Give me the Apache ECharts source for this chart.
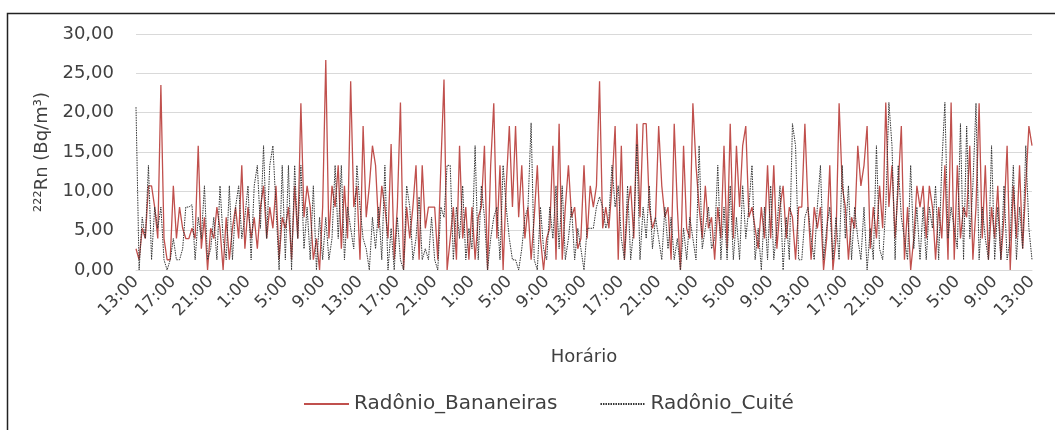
<!DOCTYPE html>
<html>
<head>
<meta charset="utf-8">
<script src="https://cdn.jsdelivr.net/npm/echarts@6/dist/echarts.min.js"></script>
<style>
  html, body { margin: 0; padding: 0; background: #fff; }
  #chart { width: 1055px; height: 430px; }
</style>
</head>
<body>
<div id="chart"></div>
<script>
// rótulos do eixo x (a cada 4 h, leitura a cada 20 min)
const tickLabels = ["13:00", "17:00", "21:00", "1:00", "5:00", "9:00",
  "13:00", "17:00", "21:00", "1:00", "5:00", "9:00",
  "13:00", "17:00", "21:00", "1:00", "5:00", "9:00",
  "13:00", "17:00", "21:00", "1:00", "5:00", "9:00", "13:00"];

const yTicks = [0, 5, 10, 15, 20, 25, 30];

// Radônio_Bananeiras (Bq/m3), 12 leituras por intervalo de 4 h
const bananeiras = [
  2.7, 1.3, 5.3, 4, 10.7, 10.7, 8, 4, 23.5, 4, 1.3, 1.3,
  10.7, 4, 8, 5.3, 4, 4, 5.3, 4, 15.8, 2.7, 6.7, 0,
  5.3, 4, 8, 5.3, 0, 6.7, 1.3, 5.3, 8, 4, 13.3, 2.7,
  8, 4, 6.7, 2.7, 8, 10.7, 4, 8, 5.3, 10.7, 1.3, 6.7,
  5.3, 8, 1.3, 10.7, 4, 21.2, 6.7, 10.7, 8, 1.3, 4, 0,
  8, 26.7, 4, 10.7, 8, 13.3, 2.7, 10.7, 4, 24, 8, 10.7,
  1.3, 18.3, 6.7, 10.7, 15.8, 13.3, 5.3, 10.7, 8, 4, 16, 1.3,
  8, 21.3, 0, 8, 4, 8, 13.3, 1.3, 13.3, 5.3, 8, 8,
  8, 1.3, 13.3, 24.2, 0, 4, 8, 1.3, 15.8, 4, 8, 1.3,
  8, 1.3, 6.7, 8, 15.8, 0, 13.3, 21.2, 4, 13.3, 0, 10.7,
  18.3, 8, 18.3, 6.7, 13.3, 4, 8, 1.3, 6.7, 13.3, 4, 0,
  4, 5.3, 15.8, 1.3, 18.6, 1.3, 8, 13.3, 6.7, 8, 2.7, 4,
  13.3, 4, 10.7, 8, 10.7, 24, 5.3, 8, 5.3, 10.7, 18.3, 1.3,
  15.8, 1.3, 8, 10.7, 4, 18.6, 6.7, 18.6, 18.6, 8, 5.3, 6.7,
  18.3, 10.7, 6.7, 8, 1.3, 18.6, 8, 0, 15.8, 5.3, 4, 21.2,
  13.3, 8, 4, 10.7, 5.3, 6.7, 1.3, 8, 4, 15.8, 2.7, 18.6,
  4, 15.8, 8, 15.8, 18.3, 6.7, 8, 5.3, 2.7, 8, 4, 13.3,
  4, 13.3, 2.7, 8, 10.7, 4, 8, 6.7, 1.3, 8, 8, 18.6,
  8, 1.3, 8, 5.3, 8, 0, 4, 13.3, 0, 4, 21.2, 10.7,
  8, 1.3, 6.7, 5.3, 15.8, 10.7, 13.3, 18.3, 2.7, 8, 4, 10.7,
  5.3, 21.3, 8, 13.3, 4, 10.7, 18.3, 1.3, 8, 0, 4, 10.7,
  8, 10.7, 4, 10.7, 8, 1.3, 8, 4, 13.3, 1.3, 21.3, 1.3,
  13.3, 4, 8, 6.7, 15.8, 1.3, 8, 21.2, 4, 13.3, 1.3, 8,
  4, 10.7, 1.3, 6.7, 15.8, 0, 10.7, 4, 13.3, 2.7, 10.7, 18.3, 15.8
];

// Radônio_Cuité (Bq/m3)
const cuite = [
  20.7, 0, 6.7, 4, 13.3, 1.3, 8, 5.3, 8, 1.3, 0, 1.3,
  4, 1.3, 1.3, 2.7, 8, 8, 8.3, 1.3, 6.7, 4, 10.7, 1.3,
  2.7, 6.7, 1.3, 10.7, 4, 1.3, 10.7, 1.3, 8, 10.7, 4, 6.7,
  10.7, 1.3, 10.7, 13.3, 5.3, 15.8, 4, 13.3, 15.8, 8, 0, 13.3,
  1.3, 13.3, 0, 13.3, 4, 13.3, 2.7, 8, 1.3, 10.7, 0, 6.7,
  1.3, 6.7, 1.3, 4, 13.3, 4, 13.3, 1.3, 8, 5.3, 2.7, 13.3,
  8, 4, 2.7, 0, 6.7, 2.7, 8, 1.3, 13.3, 0, 5.3, 0,
  6.7, 1.3, 0, 10.7, 8, 1.3, 4, 9.3, 1.3, 2.7, 1.3, 6.7,
  1.3, 0, 8, 6.7, 13.3, 13.3, 1.3, 8, 4, 10.7, 1.3, 5.3,
  2.7, 15.8, 1.3, 10.7, 6.7, 0, 4, 6.7, 8, 1.3, 13.3, 8,
  4, 1.3, 1.3, 0, 2.7, 6.7, 8, 18.7, 1.3, 0, 8, 2.7,
  1.3, 8, 4, 10.7, 2.7, 10.7, 1.3, 4, 8, 1.3, 5.3, 2.7,
  0, 5.3, 5.3, 5.3, 8, 9.3, 8, 5.3, 6.7, 13.3, 8, 10.7,
  4, 1.3, 10.7, 1.3, 5.3, 16, 1.3, 8, 4, 10.7, 2.7, 6.7,
  4, 1.3, 8, 2.7, 6.7, 1.3, 4, 0, 5.3, 1.3, 6.7, 4,
  1.3, 15.8, 2.7, 5.3, 8, 2.7, 4, 13.3, 1.3, 8, 1.3, 10.7,
  1.3, 6.7, 1.3, 10.7, 4, 8, 13.3, 1.3, 5.3, 0, 8, 1.3,
  10.7, 1.3, 5.3, 10.7, 0, 6.7, 1.3, 18.6, 15.8, 1.3, 1.3, 6.7,
  8, 4, 1.3, 8, 13.3, 1.3, 5.3, 8, 1.3, 6.7, 1.3, 13.3,
  4, 10.7, 1.3, 8, 4, 1.3, 8, 0, 5.3, 1.3, 15.8, 2.7,
  1.3, 8, 21.3, 15.8, 1.3, 13.3, 6.7, 4, 1.3, 13.3, 2.7, 8,
  1.3, 8, 1.3, 8, 5.3, 10.7, 1.3, 13.3, 21.3, 4, 8, 5.3,
  2.7, 18.6, 1.3, 18.3, 4, 10.7, 21.2, 1.3, 8, 4, 1.3, 15.8,
  1.3, 8, 1.3, 10.7, 1.3, 4, 13.3, 1.3, 8, 2.7, 15.8, 5.3, 1.3
];

const categories = bananeiras.map((v, i) => i);
const font = "DejaVu Sans, Verdana, sans-serif";
const textColor = "#404040";

const chart = echarts.init(document.getElementById("chart"));
chart.setOption({
  animation: false,
  backgroundColor: "#fff",
  graphic: [
    {
      type: "rect",
      shape: { x: 7.5, y: 13.5, width: 1100, height: 500 },
      style: { fill: "none", stroke: "#222", lineWidth: 1.5 },
      silent: true
    }
  ],
  grid: { left: 136, right: 23, top: 34, bottom: 160 },
  legend: {
    bottom: 11,
    left: 298,
    itemWidth: 45,
    itemHeight: 10,
    itemGap: 42,
    itemStyle: { opacity: 0 },
    textStyle: { fontFamily: font, fontSize: 20, color: textColor },
    data: ["Radônio_Bananeiras", "Radônio_Cuité"]
  },
  xAxis: {
    type: "category",
    data: categories,
    boundaryGap: false,
    name: "Horário",
    nameLocation: "middle",
    nameGap: 78,
    nameTextStyle: { fontFamily: font, fontSize: 18, color: textColor },
    axisLine: { show: true, lineStyle: { color: "#d9d9d9" } },
    axisTick: { show: false },
    axisLabel: {
      interval: 11,
      rotate: 45,
      margin: 9,
      fontFamily: font,
      fontSize: 17,
      color: textColor,
      formatter: (v) => tickLabels[Number(v) / 12] || ""
    },
    splitLine: { show: false }
  },
  yAxis: {
    type: "value",
    min: yTicks[0],
    max: yTicks[yTicks.length - 1],
    interval: 5,
    name: "²²²Rn (Bq/m³)",
    nameLocation: "middle",
    nameGap: 80,
    nameRotate: 90,
    nameTextStyle: { fontFamily: font, fontSize: 18, color: textColor },
    axisLine: { show: false },
    axisTick: { show: false },
    axisLabel: {
      fontFamily: font,
      fontSize: 18,
      color: textColor,
      margin: 22,
      formatter: (v) => v.toFixed(2).replace(".", ",")
    },
    splitLine: { lineStyle: { color: "#d9d9d9", width: 1 } }
  },
  series: [
    {
      name: "Radônio_Bananeiras",
      type: "line",
      data: bananeiras,
      symbol: "none",
      lineStyle: { color: "#c0504d", width: 1.3 },
      itemStyle: { color: "#c0504d" },
      z: 2
    },
    {
      name: "Radônio_Cuité",
      type: "line",
      data: cuite,
      symbol: "none",
      lineStyle: { color: "#333", width: 1, type: [1.5, 1] },
      itemStyle: { color: "#333" },
      z: 3
    }
  ]
});
</script>
</body>
</html>
